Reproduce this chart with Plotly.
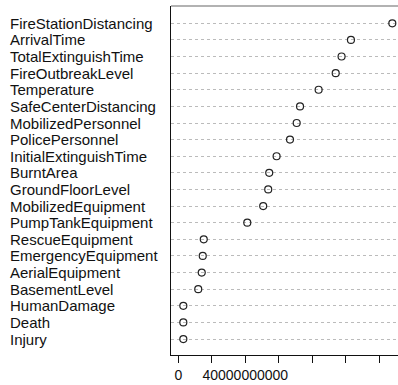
import plotly.graph_objects as go

variables = ["FireStationDistancing", "ArrivalTime", "TotalExtinguishTime", "FireOutbreakLevel",
             "Temperature", "SafeCenterDistancing", "MobilizedPersonnel", "PolicePersonnel",
             "InitialExtinguishTime", "BurntArea", "GroundFloorLevel", "MobilizedEquipment",
             "PumpTankEquipment", "RescueEquipment", "EmergencyEquipment", "AerialEquipment",
             "BasementLevel", "HumanDamage", "Death", "Injury"]
importance = [1.278e11, 1.031e11, 0.975e11, 0.940e11, 0.838e11, 0.727e11, 0.707e11, 0.667e11,
              0.587e11, 0.543e11, 0.537e11, 0.507e11, 0.412e11, 0.152e11, 0.146e11, 0.140e11,
              0.119e11, 0.030e11, 0.030e11, 0.030e11]
tick_values = [0, 2e10, 4e10, 6e10, 8e10, 1e11, 1.2e11]
tick_labels = ["0", "", "40000000000", "", "", "", ""]

W, H = 398, 385
L, R, T, B = 171, 0, 6, 30
plot_w = W - L - R

fig = go.Figure()
fig.add_trace(go.Scatter(
    x=importance, y=variables, mode="markers",
    marker=dict(symbol="circle-open", size=7, color="#222", line=dict(width=1.2, color="#222")),
    showlegend=False, hoverinfo="x+y"))

for v in variables:
    fig.add_annotation(x=(8 - L) / plot_w, xref="paper", y=v, yref="y", text=v,
                       xanchor="left", yanchor="middle", showarrow=False,
                       font=dict(family="Liberation Sans, Arial, sans-serif", size=15, color="#111"))

fig.add_shape(type="line", xref="paper", yref="paper", x0=0, x1=1, y0=1, y1=1,
              line=dict(color="#999", width=1.5))

fig.update_layout(
    width=W, height=H, margin=dict(l=L, r=R, t=T, b=B),
    paper_bgcolor="white", plot_bgcolor="white",
    font=dict(family="Liberation Sans, Arial, sans-serif", size=14, color="#111"),
    xaxis=dict(range=[-0.436e10, 13.12e10], tickmode="array", tickvals=tick_values,
               ticktext=tick_labels, ticks="outside", ticklen=7, tickcolor="#111",
               showline=True, linecolor="#111", linewidth=1, showgrid=False, zeroline=False,
               tickfont=dict(size=14, color="#111")),
    yaxis=dict(type="category", categoryorder="array", categoryarray=variables[::-1],
               range=[-0.96, 20.04], showticklabels=False, ticks="",
               showline=True, linecolor="#111", linewidth=1,
               showgrid=True, gridcolor="#bbb", griddash="dot", gridwidth=1, zeroline=False),
)

fig.write_html("out.html", config={"displayModeBar": False},
               post_script="document.body.style.margin='0';document.body.style.overflow='hidden';")
